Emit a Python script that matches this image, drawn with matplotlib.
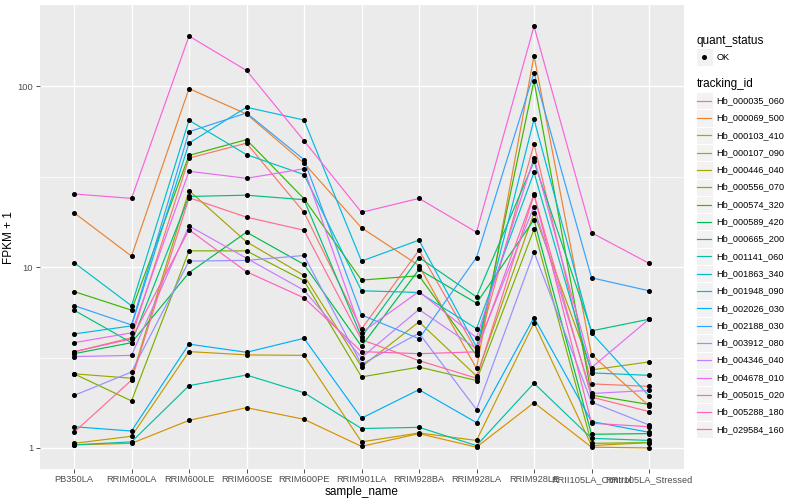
import matplotlib
matplotlib.use("Agg")
import matplotlib.pyplot as plt
from matplotlib.patches import Rectangle
from matplotlib.ticker import FixedLocator, NullFormatter
import numpy as np

plt.rcParams['font.family'] = ['Liberation Sans', 'DejaVu Sans']

# ---------------- data ----------------
sample_name = ["PB350LA", "RRIM600LA", "RRIM600LE", "RRIM600SE", "RRIM600PE",
               "RRIM901LA", "RRIM928BA", "RRIM928LA", "RRIM928LE",
               "RRII105LA_Control", "RRII105LA_Stressed"]

tracking_id = ["Hb_000035_060", "Hb_000069_500", "Hb_000103_410", "Hb_000107_090",
               "Hb_000446_040", "Hb_000556_070", "Hb_000574_320", "Hb_000589_420",
               "Hb_000665_200", "Hb_001141_060", "Hb_001863_340", "Hb_001948_090",
               "Hb_002026_030", "Hb_002188_030", "Hb_003912_080", "Hb_004346_040",
               "Hb_004678_010", "Hb_005015_020", "Hb_005288_180", "Hb_029584_160"]

# FPKM + 1 per sample (order of sample_name)
hb_000035_060 = [3.40, 4.07, 40.1, 48.5, 20.1, 4.55, 12.4, 3.44, 47.9, 2.26, 2.19]
hb_000069_500 = [20.0, 11.5, 97.2, 70.3, 37.6, 16.5, 10.2, 2.75, 147.5, 3.28, 1.71]
hb_000103_410 = [1.04, 1.06, 1.42, 1.67, 1.44, 1.02, 1.20, 1.01, 1.78, 1.01, 1.00]
hb_000107_090 = [1.06, 1.16, 3.41, 3.27, 3.25, 1.08, 1.21, 1.10, 4.92, 1.03, 1.07]
hb_000446_040 = [2.57, 2.43, 26.5, 13.8, 9.0, 2.81, 4.98, 2.50, 19.9, 2.70, 2.99]
hb_000556_070 = [2.57, 1.82, 12.3, 12.3, 8.41, 2.47, 2.80, 2.36, 16.2, 1.06, 1.07]
hb_000574_320 = [7.33, 5.78, 41.5, 50.7, 23.9, 8.48, 8.96, 3.25, 107.2, 1.96, 1.74]
hb_000589_420 = [3.32, 3.82, 9.31, 15.6, 10.35, 3.65, 9.71, 6.32, 18.3, 1.19, 1.20]
hb_000665_200 = [5.78, 3.82, 24.6, 25.0, 23.6, 4.11, 11.3, 6.85, 38.4, 4.44, 5.15]
hb_001141_060 = [1.04, 1.08, 2.21, 2.53, 2.02, 1.28, 1.30, 1.03, 2.28, 1.13, 1.10]
hb_001863_340 = [10.6, 6.11, 64.9, 41.9, 32.5, 7.40, 7.24, 4.57, 33.4, 2.60, 2.52]
hb_001948_090 = [4.27, 4.73, 48.5, 76.6, 65.1, 10.8, 14.1, 3.62, 65.7, 4.33, 1.94]
hb_002026_030 = [1.31, 1.24, 3.75, 3.38, 4.04, 1.46, 2.10, 1.38, 5.26, 1.40, 1.22]
hb_002188_030 = [6.13, 4.79, 56.1, 71.2, 39.3, 5.44, 4.02, 11.3, 118.7, 8.73, 7.40]
hb_003912_080 = [1.95, 2.63, 10.8, 10.9, 11.6, 2.90, 4.31, 1.63, 12.1, 1.79, 1.34]
hb_004346_040 = [3.20, 3.25, 16.9, 11.2, 7.45, 3.16, 5.83, 3.54, 21.6, 2.00, 2.08]
hb_004678_010 = [3.82, 4.33, 33.9, 31.0, 35.0, 4.34, 7.33, 4.07, 40.3, 2.78, 5.15]
hb_005015_020 = [25.4, 24.0, 189.7, 122.4, 50.0, 20.1, 24.0, 15.6, 214.6, 15.5, 10.5]
hb_005288_180 = [3.40, 4.01, 16.1, 9.43, 6.76, 3.41, 3.32, 3.40, 25.4, 1.37, 1.31]
hb_029584_160 = [1.22, 2.37, 24.2, 18.9, 16.0, 3.97, 3.04, 2.43, 25.1, 1.91, 1.59]

series = [hb_000035_060, hb_000069_500, hb_000103_410, hb_000107_090, hb_000446_040,
          hb_000556_070, hb_000574_320, hb_000589_420, hb_000665_200, hb_001141_060,
          hb_001863_340, hb_001948_090, hb_002026_030, hb_002188_030, hb_003912_080,
          hb_004346_040, hb_004678_010, hb_005015_020, hb_005288_180, hb_029584_160]

y_breaks = [1, 10, 100]
y_minor = [10 ** 0.5, 10 ** 1.5]

# ggplot2 default hue palette for 20 levels
palette = ["#F8766D", "#EA8331", "#D89000", "#C09B00", "#A3A500", "#7CAE00",
           "#39B600", "#00BB4E", "#00BF7D", "#00C1A3", "#00BFC4", "#00BAE0",
           "#00B0F6", "#35A2FF", "#9590FF", "#C77CFF", "#E76BF3", "#FA62DB",
           "#FF62BC", "#FF6C91"]

# ---------------- figure ----------------
W, H = 800, 500
fig = plt.figure(figsize=(8, 5), dpi=100)
fig.patch.set_facecolor("white")

pl, pr, pt, pb = 39.5, 683.5, 5.3, 469.0
ax = fig.add_axes([pl / W, 1 - pb / H, (pr - pl) / W, (pb - pt) / H])
ax.set_facecolor("#EBEBEB")
for s in ax.spines.values():
    s.set_visible(False)

x = np.arange(len(sample_name))
for vals, col in zip(series, palette):
    ax.plot(x, vals, color=col, lw=0.85, solid_joinstyle="round", zorder=3)
for vals in series:
    ax.plot(x, vals, ls="none", marker="o", ms=2.6, color="black", zorder=4)

ax.set_yscale("log")
allv = np.concatenate([np.asarray(v, float) for v in series])
lo, hi = np.log10(allv.min()), np.log10(allv.max())
pad = 0.05 * (hi - lo)
ax.set_ylim(10 ** (lo - pad), 10 ** (hi + pad))
ax.set_xlim(-0.6, len(sample_name) - 1 + 0.6)

ax.yaxis.set_major_locator(FixedLocator(y_breaks))
ax.set_yticklabels([str(b) for b in y_breaks])
ax.yaxis.set_minor_locator(FixedLocator(y_minor))
ax.yaxis.set_minor_formatter(NullFormatter())
ax.set_xticks(x)
ax.set_xticklabels(sample_name)

ax.grid(True, which="major", color="white", lw=1.0, zorder=0)
ax.grid(True, which="minor", axis="y", color="white", lw=0.5, zorder=0)
ax.set_axisbelow(True)
ax.tick_params(axis="both", which="major", length=2.6, width=0.6, color="#333333",
               labelsize=6.7, labelcolor="#4D4D4D", pad=2)
ax.tick_params(axis="y", which="minor", length=0)

ax.set_xlabel("sample_name", fontsize=8.5, color="black", labelpad=1.5)
ax.set_ylabel("FPKM + 1", fontsize=8.5, color="black", labelpad=1.5)

# ---------------- legend (drawn in pixel space) ----------------
lax = fig.add_axes([0, 0, 1, 1])
lax.set_xlim(0, W)
lax.set_ylim(H, 0)
lax.axis("off")

kx0, kw = 695.5, 17.3
tx = 716.7
lax.text(696.5, 40.7, "quant_status", fontsize=8.5, va="center", ha="left")
lax.add_patch(Rectangle((kx0, 48.4), kw, kw, facecolor="#F2F2F2", edgecolor="white", lw=0.8))
lax.plot([kx0 + kw / 2], [57.0], marker="o", ms=2.6, color="black")
lax.text(tx, 57.0, "OK", fontsize=6.6, va="center", ha="left")

lax.text(696.5, 84.3, "tracking_id", fontsize=8.5, va="center", ha="left")
step = 17.3
for i, (name, col) in enumerate(zip(tracking_id, palette)):
    cy = 100.7 + i * step
    lax.add_patch(Rectangle((kx0, cy - kw / 2), kw, kw, facecolor="#F2F2F2",
                            edgecolor="white", lw=0.8))
    lax.plot([kx0 + 1.7, kx0 + kw - 1.7], [cy, cy], color=col, lw=0.85)
    lax.text(tx, cy, name, fontsize=6.6, va="center", ha="left")

fig.savefig("out.png", dpi=100)
